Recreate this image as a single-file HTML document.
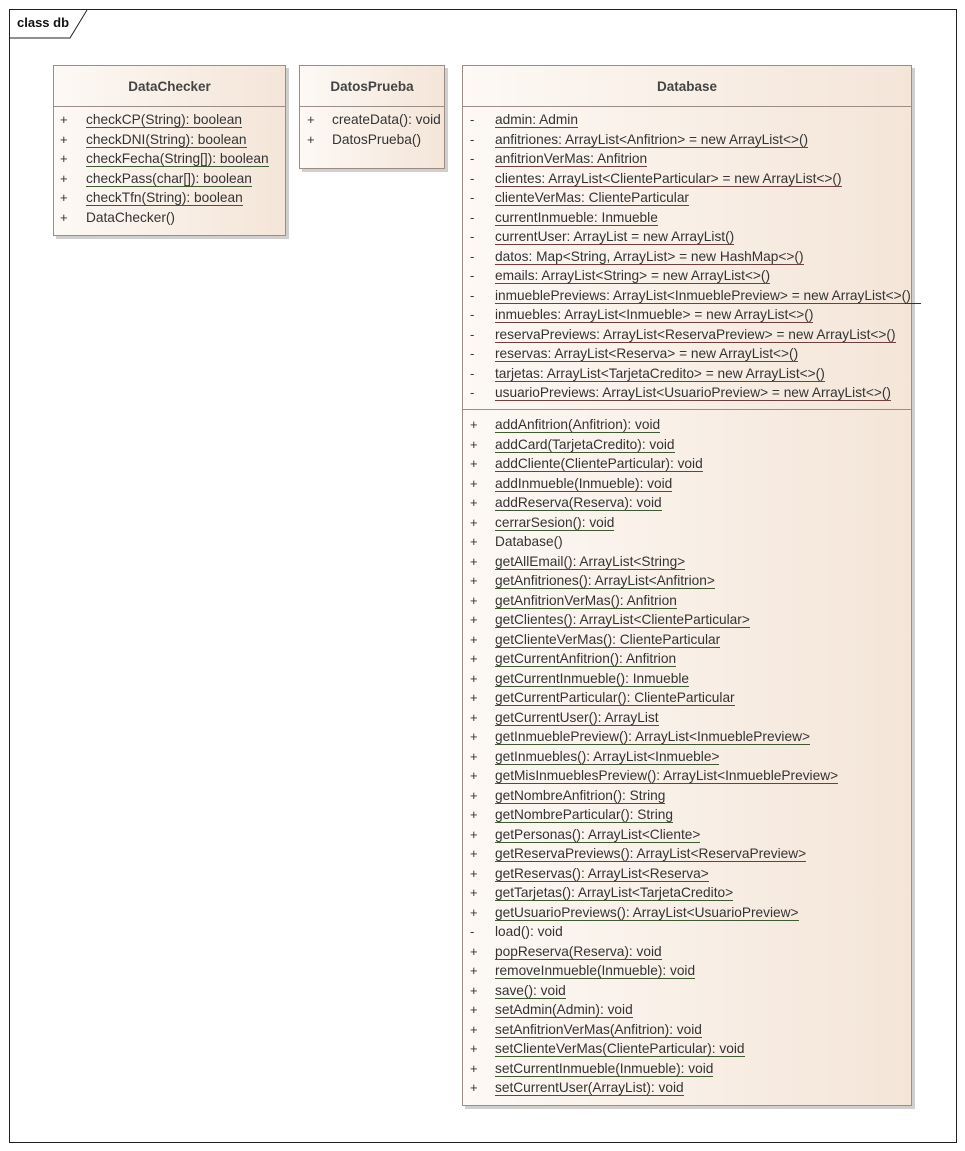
<!DOCTYPE html>
<html><head><meta charset="utf-8"><style>
body{margin:0;width:965px;height:1151px;background:#fff;position:relative;font-family:"Liberation Sans",sans-serif;color:#333;overflow:hidden}
.frame{position:absolute;left:9px;top:9px;width:946px;height:1132px;border:1px solid #222}
.box{position:absolute;border:1px solid #9e8c88;background:linear-gradient(90deg,#fdf9f5,#f4e5d8);box-shadow:3px 3px 0 #cfcfcf}
.hd{position:absolute;left:0;right:0;top:0;height:40px;border-bottom:1px solid #9e8c88;text-align:center;font-weight:bold;font-size:13.5px;line-height:42px;color:#444}
.sep{position:absolute;left:0;right:0;border-top:1px solid #9e8c88}
.r{position:absolute;font-size:13.7px;white-space:nowrap;line-height:16px}
.v{position:absolute;font-size:13px;line-height:16px}
.a{border-bottom:1.5px solid #6e4040}
.m{border-bottom:1.5px solid #3f5a30}
</style></head><body>
<div class="frame"></div>
<svg style="position:absolute;left:0;top:0" width="120" height="50"><polyline points="10,38 70,38 87,10" fill="none" stroke="#222" stroke-width="1"/></svg>
<div style="position:absolute;left:17px;top:15px;font-size:13px;font-weight:bold;color:#111">class db</div>

<div class="box" style="left:53px;top:65px;width:231px;height:169px"><div class="hd">DataChecker</div></div>
<div class="box" style="left:299px;top:65px;width:144px;height:102px"><div class="hd">DatosPrueba</div></div>
<div class="box" style="left:462px;top:65px;width:448px;height:1039px"><div class="hd">Database</div><div class="sep" style="top:343px"></div></div>
<div id="c"></div>
<div style="position:absolute;left:905px;top:303px;width:16px;border-top:1px solid #333"></div>
<script>
function rows(x,vx,y0,list){var h='';list.forEach(function(it,i){var y=y0+i*19.5-8;h+='<div class="v" style="left:'+vx+'px;top:'+y+'px">'+it[0]+'</div><div class="r" style="left:'+x+'px;top:'+y+'px"><span class="'+it[1]+'">'+it[2].replace(/</g,'&lt;').replace(/>/g,'&gt;')+'</span></div>';});return h;}
var P='+',M='-';
var out='';
out+=rows(86,60,120,[[P,'m','checkCP(String): boolean'],[P,'m','checkDNI(String): boolean'],[P,'m','checkFecha(String[]): boolean'],[P,'m','checkPass(char[]): boolean'],[P,'m','checkTfn(String): boolean'],[P,'','DataChecker()']]);
out+=rows(332,307,120,[[P,'','createData(): void'],[P,'','DatosPrueba()']]);
out+=rows(495,470,120,[
[M,'a','admin: Admin'],[M,'a','anfitriones: ArrayList<Anfitrion> = new ArrayList<>()'],[M,'a','anfitrionVerMas: Anfitrion'],[M,'a','clientes: ArrayList<ClienteParticular> = new ArrayList<>()'],[M,'a','clienteVerMas: ClienteParticular'],[M,'a','currentInmueble: Inmueble'],[M,'a','currentUser: ArrayList = new ArrayList()'],[M,'a','datos: Map<String, ArrayList> = new HashMap<>()'],[M,'a','emails: ArrayList<String> = new ArrayList<>()'],[M,'a','inmueblePreviews: ArrayList<InmueblePreview> = new ArrayList<>()'],[M,'a','inmuebles: ArrayList<Inmueble> = new ArrayList<>()'],[M,'a','reservaPreviews: ArrayList<ReservaPreview> = new ArrayList<>()'],[M,'a','reservas: ArrayList<Reserva> = new ArrayList<>()'],[M,'a','tarjetas: ArrayList<TarjetaCredito> = new ArrayList<>()'],[M,'a','usuarioPreviews: ArrayList<UsuarioPreview> = new ArrayList<>()']]);
out+=rows(495,470,425,[
[P,'m','addAnfitrion(Anfitrion): void'],[P,'m','addCard(TarjetaCredito): void'],[P,'m','addCliente(ClienteParticular): void'],[P,'m','addInmueble(Inmueble): void'],[P,'m','addReserva(Reserva): void'],[P,'m','cerrarSesion(): void'],[P,'','Database()'],[P,'m','getAllEmail(): ArrayList<String>'],[P,'m','getAnfitriones(): ArrayList<Anfitrion>'],[P,'m','getAnfitrionVerMas(): Anfitrion'],[P,'m','getClientes(): ArrayList<ClienteParticular>'],[P,'m','getClienteVerMas(): ClienteParticular'],[P,'m','getCurrentAnfitrion(): Anfitrion'],[P,'m','getCurrentInmueble(): Inmueble'],[P,'m','getCurrentParticular(): ClienteParticular'],[P,'m','getCurrentUser(): ArrayList'],[P,'m','getInmueblePreview(): ArrayList<InmueblePreview>'],[P,'m','getInmuebles(): ArrayList<Inmueble>'],[P,'m','getMisInmueblesPreview(): ArrayList<InmueblePreview>'],[P,'m','getNombreAnfitrion(): String'],[P,'m','getNombreParticular(): String'],[P,'m','getPersonas(): ArrayList<Cliente>'],[P,'m','getReservaPreviews(): ArrayList<ReservaPreview>'],[P,'m','getReservas(): ArrayList<Reserva>'],[P,'m','getTarjetas(): ArrayList<TarjetaCredito>'],[P,'m','getUsuarioPreviews(): ArrayList<UsuarioPreview>'],[M,'','load(): void'],[P,'m','popReserva(Reserva): void'],[P,'m','removeInmueble(Inmueble): void'],[P,'m','save(): void'],[P,'m','setAdmin(Admin): void'],[P,'m','setAnfitrionVerMas(Anfitrion): void'],[P,'m','setClienteVerMas(ClienteParticular): void'],[P,'m','setCurrentInmueble(Inmueble): void'],[P,'m','setCurrentUser(ArrayList): void']]);
document.getElementById('c').innerHTML=out;
</script>
</body></html>
